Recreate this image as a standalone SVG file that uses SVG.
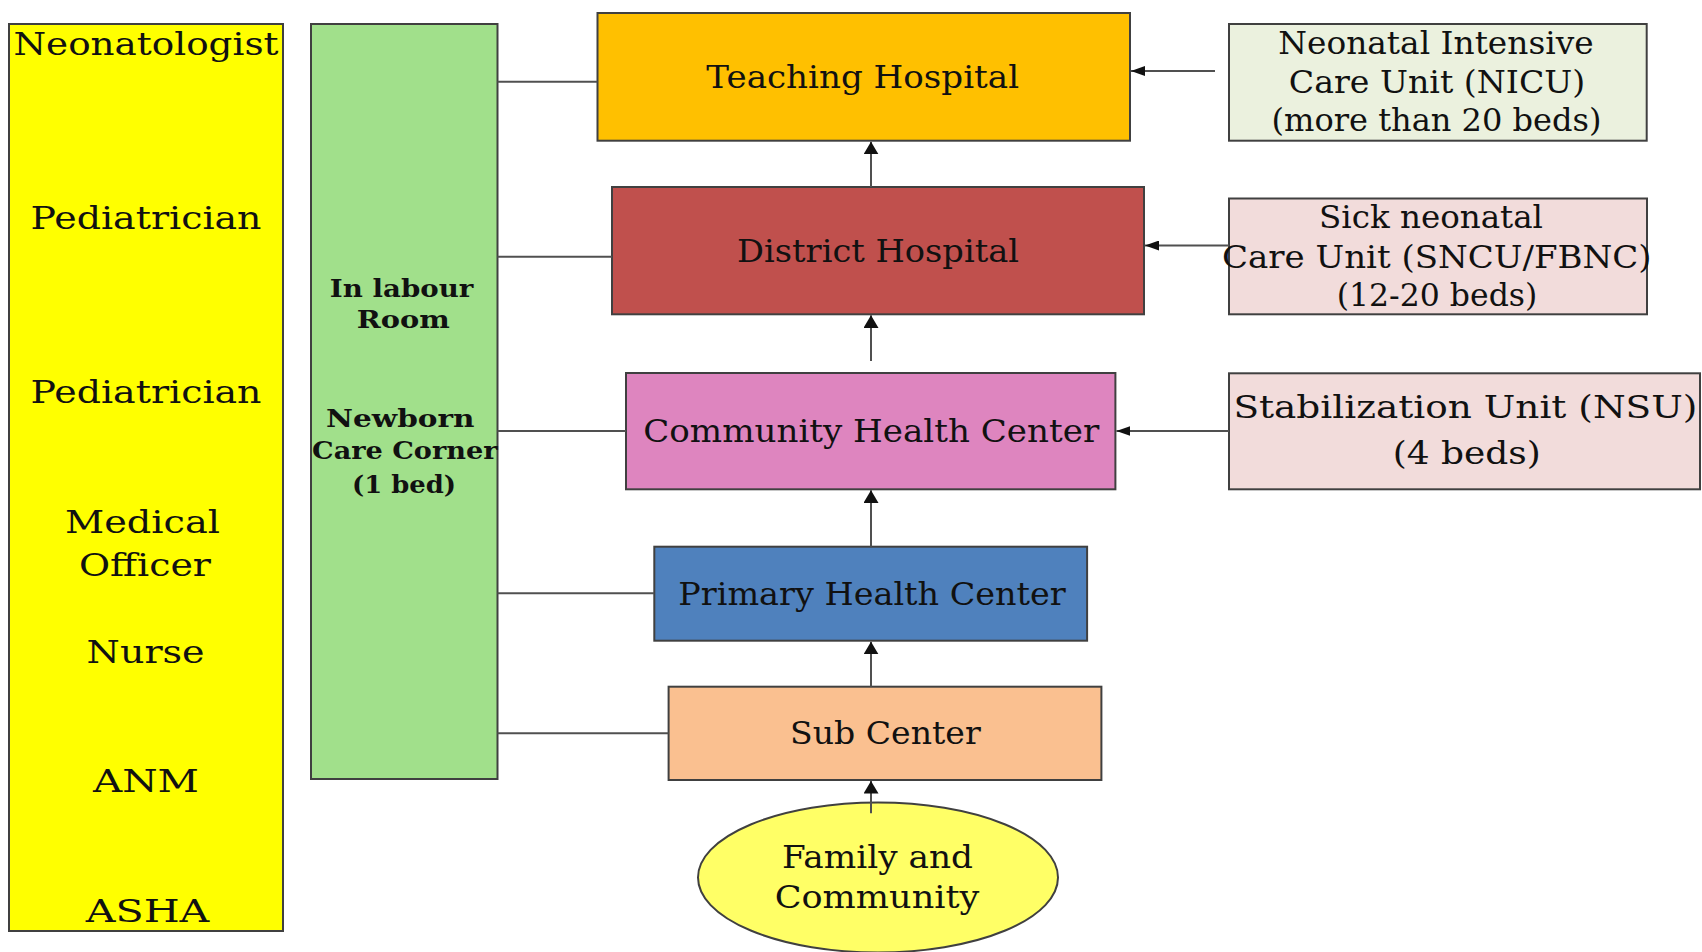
<svg xmlns="http://www.w3.org/2000/svg" width="1702" height="952" viewBox="0 0 1702 952">
  <style>
    .box { stroke: #404040; stroke-width: 2; }
    .lbl { font-family: "DejaVu Serif", "Liberation Serif", serif; font-size: 32px; fill: #111; text-anchor: middle; }
    .lbl-b { font-family: "DejaVu Serif", "Liberation Serif", serif; font-size: 24px; font-weight: bold; fill: #111; text-anchor: middle; }
    .link { stroke: #505050; stroke-width: 2; fill: none; }
  </style>
  <defs>
    <marker id="arrowV" markerUnits="userSpaceOnUse" viewBox="0 -7.5 12.6 15" refX="12.6" refY="0" markerWidth="12.6" markerHeight="15" orient="auto">
      <polygon points="0,-7.5 12.6,0 0,7.5" fill="#111"/>
    </marker>
    <marker id="arrowH" markerUnits="userSpaceOnUse" viewBox="0 -5 14 10" refX="14" refY="0" markerWidth="14" markerHeight="10" orient="auto">
      <polygon points="0,-5 14,0 0,5" fill="#111"/>
    </marker>
  </defs>

  <rect width="1702" height="952" fill="#ffffff"/>

  <!-- staff column -->
  <g id="staff">
    <rect class="box" x="9" y="24" width="274" height="907" fill="#FFFF00"/>
    <text class="lbl" x="146" y="55" textLength="265" lengthAdjust="spacingAndGlyphs">Neonatologist</text>
    <text class="lbl" x="146" y="228.5" textLength="231" lengthAdjust="spacingAndGlyphs">Pediatrician</text>
    <text class="lbl" x="146" y="403" textLength="231" lengthAdjust="spacingAndGlyphs">Pediatrician</text>
    <text class="lbl" x="142.5" y="532.5" textLength="155" lengthAdjust="spacingAndGlyphs">Medical</text>
    <text class="lbl" x="145" y="576" textLength="132" lengthAdjust="spacingAndGlyphs">Officer</text>
    <text class="lbl" x="145.6" y="662.7" textLength="118" lengthAdjust="spacingAndGlyphs">Nurse</text>
    <text class="lbl" x="146" y="791.7" textLength="106" lengthAdjust="spacingAndGlyphs">ANM</text>
    <text class="lbl" x="147.5" y="922.3" textLength="123.6" lengthAdjust="spacingAndGlyphs">ASHA</text>
  </g>

  <!-- labour room / newborn care corner column -->
  <g id="labour-room">
    <rect class="box" x="311" y="24" width="186.5" height="755" fill="#A1E08B"/>
    <text class="lbl-b" x="401.6" y="296.7" textLength="143.5" lengthAdjust="spacingAndGlyphs">In labour</text>
    <text class="lbl-b" x="403.2" y="328.3" textLength="93" lengthAdjust="spacingAndGlyphs">Room</text>
    <text class="lbl-b" x="400.3" y="426.7" textLength="148.5" lengthAdjust="spacingAndGlyphs">Newborn</text>
    <text class="lbl-b" x="404.8" y="459.3" textLength="185.5" lengthAdjust="spacingAndGlyphs">Care Corner</text>
    <text class="lbl-b" x="404" y="493.3" textLength="104" lengthAdjust="spacingAndGlyphs">(1 bed)</text>
  </g>

  <!-- facility levels -->
  <g id="teaching-hospital">
    <rect class="box" x="597.5" y="13" width="532.5" height="127.7" fill="#FFC000"/>
    <text class="lbl" x="862.7" y="88.3" textLength="312.7" lengthAdjust="spacingAndGlyphs">Teaching Hospital</text>
  </g>
  <g id="district-hospital">
    <rect class="box" x="612" y="187" width="532" height="127.3" fill="#C0504D"/>
    <text class="lbl" x="878" y="261.7" textLength="282" lengthAdjust="spacingAndGlyphs">District Hospital</text>
  </g>
  <g id="community-health-center">
    <rect class="box" x="626" y="373" width="489.4" height="116.3" fill="#DE85BF"/>
    <text class="lbl" x="871.2" y="441.7" textLength="456" lengthAdjust="spacingAndGlyphs">Community Health Center</text>
  </g>
  <g id="primary-health-center">
    <rect class="box" x="654.3" y="546.7" width="432.8" height="94" fill="#4F81BD"/>
    <text class="lbl" x="872" y="605" textLength="387.5" lengthAdjust="spacingAndGlyphs">Primary Health Center</text>
  </g>
  <g id="sub-center">
    <rect class="box" x="668.6" y="686.7" width="432.8" height="93.3" fill="#FAC090"/>
    <text class="lbl" x="885.4" y="744" textLength="190.7" lengthAdjust="spacingAndGlyphs">Sub Center</text>
  </g>
  <g id="family-community">
    <ellipse class="box" cx="878" cy="877.5" rx="180" ry="75" fill="#FFFF66"/>
    <text class="lbl" x="877.4" y="868.3" textLength="191" lengthAdjust="spacingAndGlyphs">Family and</text>
    <text class="lbl" x="877" y="908.3" textLength="204.6" lengthAdjust="spacingAndGlyphs">Community</text>
  </g>

  <!-- newborn care units -->
  <g id="nicu">
    <rect class="box" x="1229" y="24" width="417.7" height="116.7" fill="#EBF1DE"/>
    <text class="lbl" x="1436" y="54" textLength="315.5" lengthAdjust="spacingAndGlyphs">Neonatal Intensive</text>
    <text class="lbl" x="1437" y="92.5" textLength="296.4" lengthAdjust="spacingAndGlyphs">Care Unit (NICU)</text>
    <text class="lbl" x="1436.5" y="131" textLength="330" lengthAdjust="spacingAndGlyphs">(more than 20 beds)</text>
  </g>
  <g id="sncu">
    <rect class="box" x="1229" y="198.5" width="418" height="115.8" fill="#F2DCDB"/>
    <text class="lbl" x="1431" y="228" textLength="224" lengthAdjust="spacingAndGlyphs">Sick neonatal</text>
    <text class="lbl" x="1436.8" y="268" textLength="429.6" lengthAdjust="spacingAndGlyphs">Care Unit (SNCU/FBNC)</text>
    <text class="lbl" x="1437" y="305.5" textLength="200.6" lengthAdjust="spacingAndGlyphs">(12-20 beds)</text>
  </g>
  <g id="nsu">
    <rect class="box" x="1229" y="373.3" width="471" height="116" fill="#F2DCDB"/>
    <text class="lbl" x="1465.4" y="418.3" textLength="464" lengthAdjust="spacingAndGlyphs">Stabilization Unit (NSU)</text>
    <text class="lbl" x="1466.8" y="464.3" textLength="148" lengthAdjust="spacingAndGlyphs">(4 beds)</text>
  </g>

  <!-- connectors -->
  <g id="connectors">
    <line class="link" x1="497.5" y1="81.7" x2="597.5" y2="81.7"/>
    <line class="link" x1="497.5" y1="256.7" x2="612" y2="256.7"/>
    <line class="link" x1="497.5" y1="431" x2="626" y2="431"/>
    <line class="link" x1="497.5" y1="593.3" x2="654.3" y2="593.3"/>
    <line class="link" x1="497.5" y1="733.3" x2="668.6" y2="733.3"/>

    <line class="link" x1="871" y1="187" x2="871" y2="141.7" marker-end="url(#arrowV)"/>
    <line class="link" x1="871" y1="361" x2="871" y2="315.3" marker-end="url(#arrowV)"/>
    <line class="link" x1="871" y1="546.7" x2="871" y2="490.3" marker-end="url(#arrowV)"/>
    <line class="link" x1="871" y1="686.7" x2="871" y2="641.7" marker-end="url(#arrowV)"/>
    <line class="link" x1="871" y1="813.3" x2="871" y2="781" marker-end="url(#arrowV)"/>

    <line class="link" x1="1215" y1="71" x2="1131" y2="71" marker-end="url(#arrowH)"/>
    <line class="link" x1="1229" y1="245.5" x2="1145" y2="245.5" marker-end="url(#arrowH)"/>
    <line class="link" x1="1229" y1="431" x2="1116.4" y2="431" marker-end="url(#arrowH)"/>
  </g>
</svg>
